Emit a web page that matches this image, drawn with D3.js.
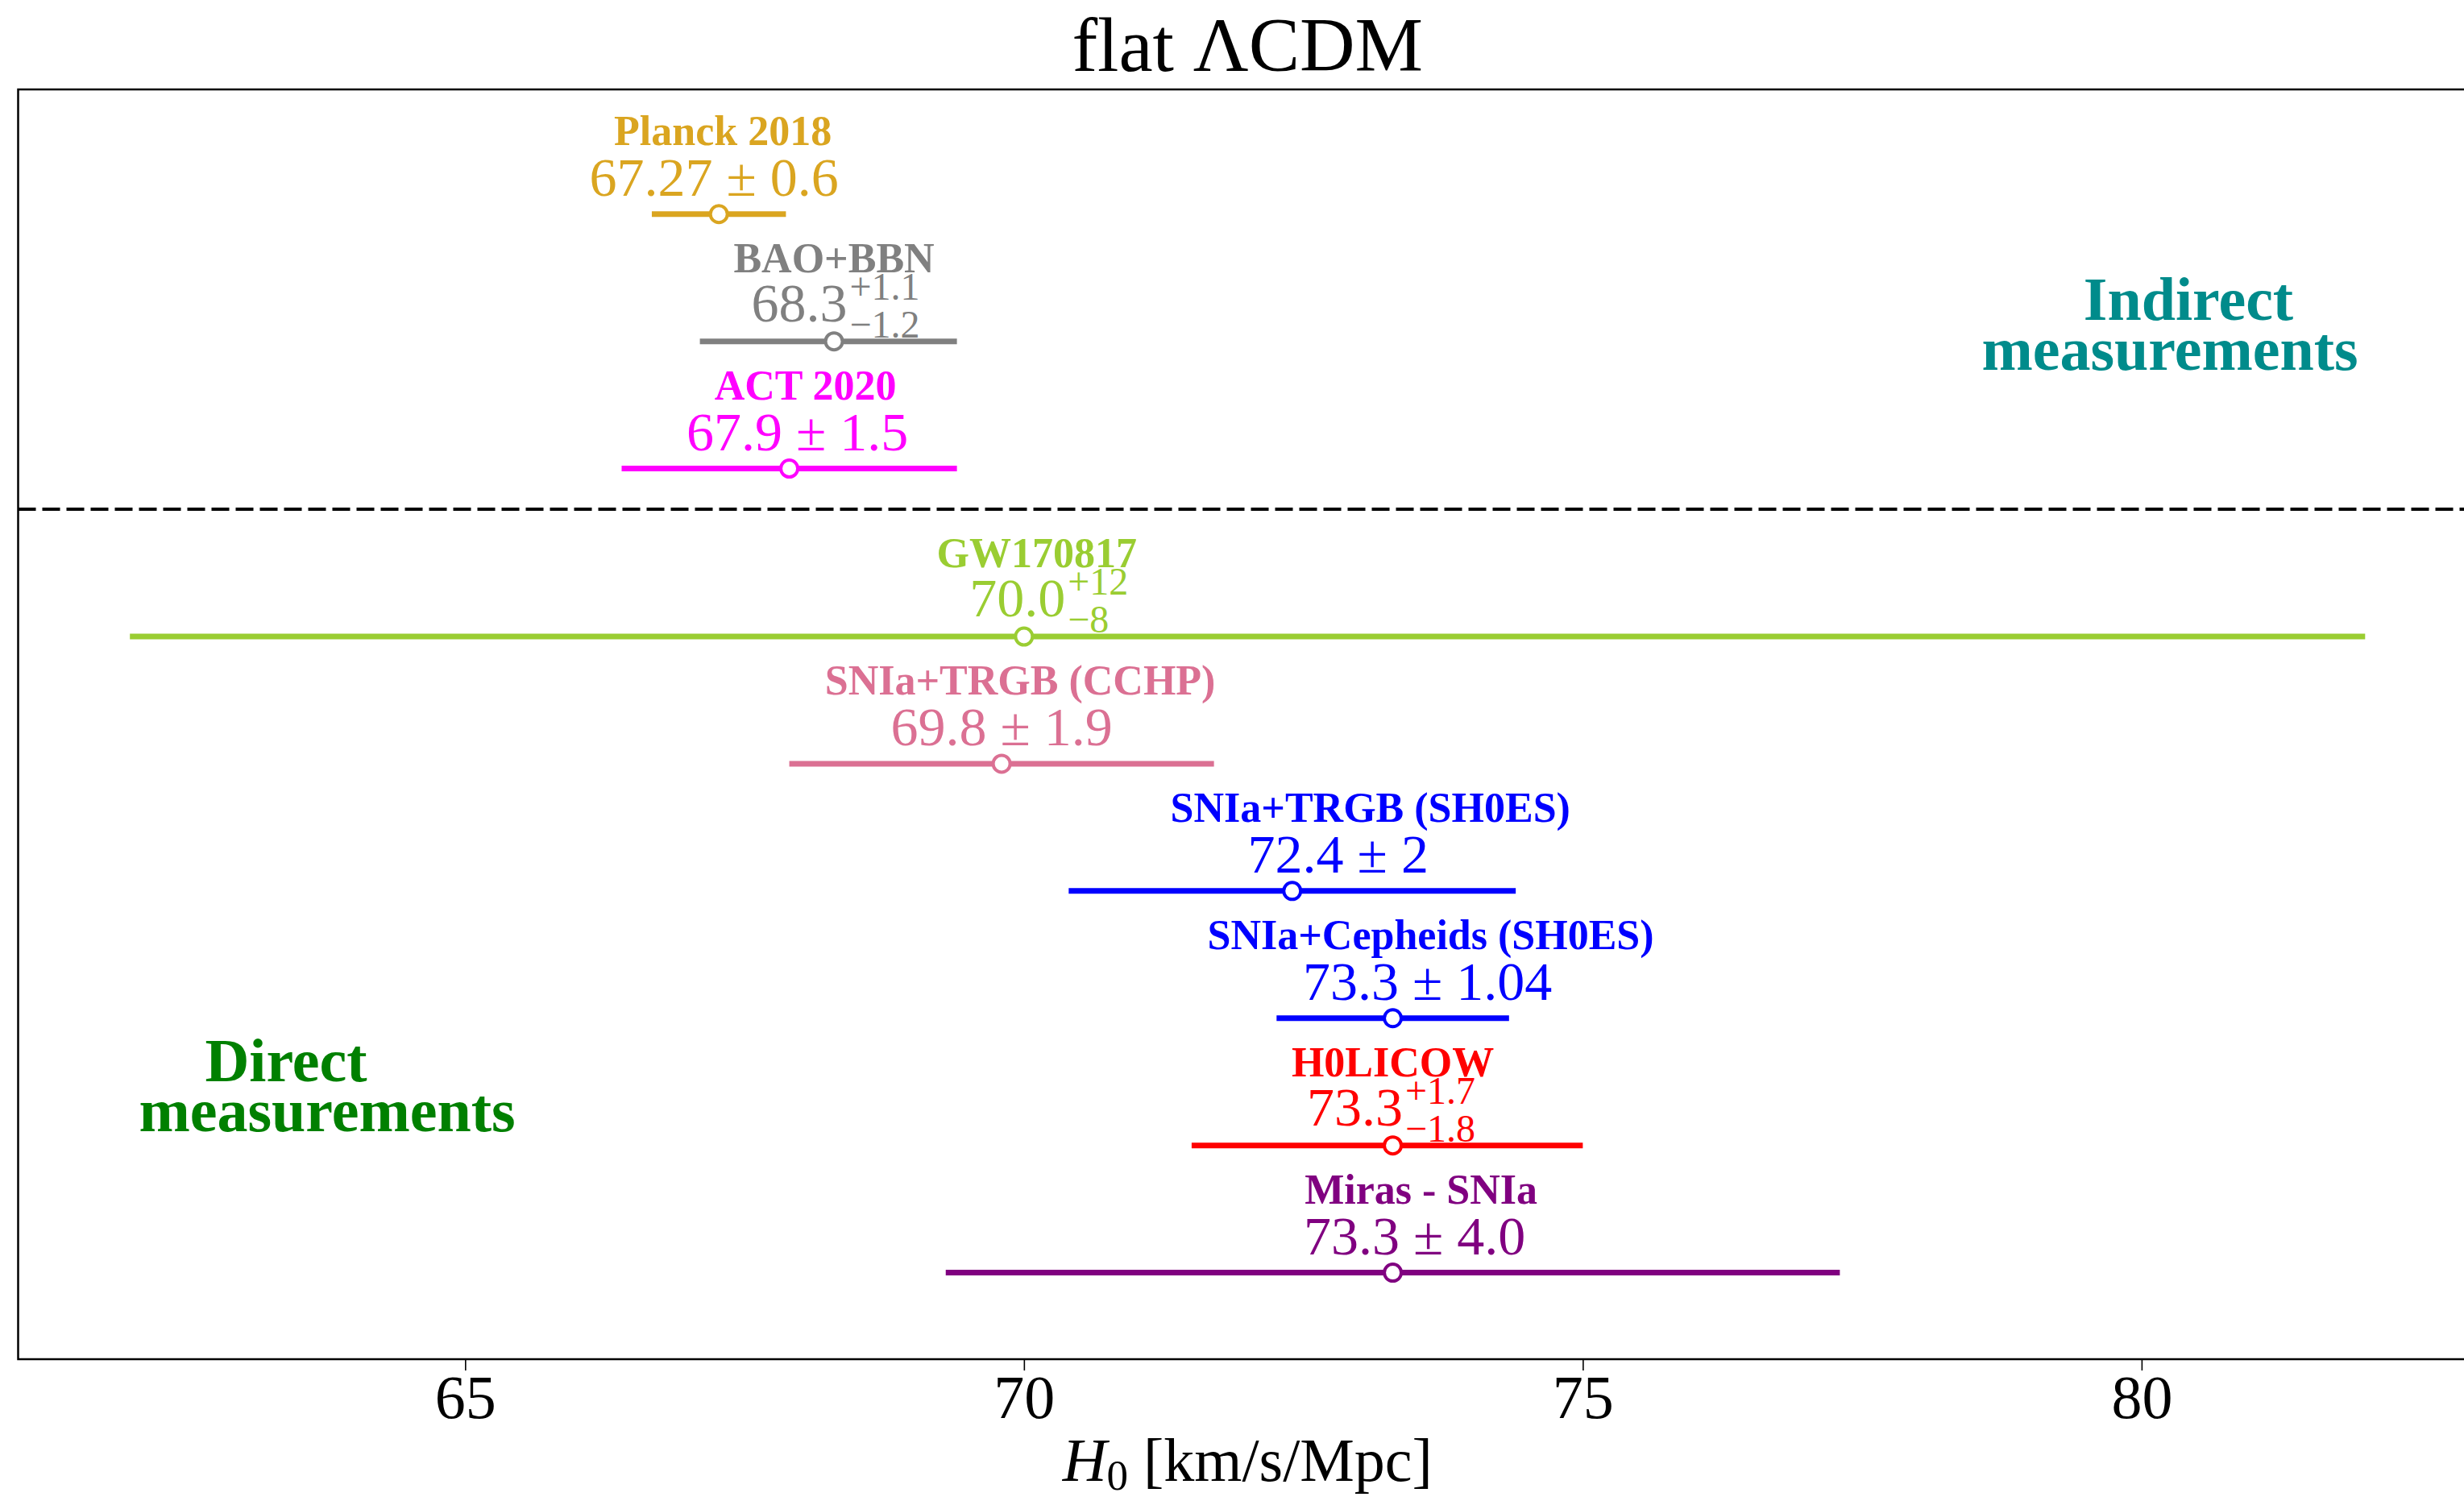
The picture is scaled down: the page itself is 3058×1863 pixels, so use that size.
<!DOCTYPE html>
<html>
<head>
<meta charset="utf-8">
<script src="https://cdn.jsdelivr.net/npm/d3@7"></script>
<style>
  html, body { margin: 0; padding: 0; background: #ffffff; }
  svg { display: block; }
  text { font-family: "Liberation Serif", "DejaVu Serif", serif; }
</style>
</head>
<body>
<script>
// H0 measurements, top to bottom
const names = ["Planck 2018", "BAO+BBN", "ACT 2020", "GW170817", "SNIa+TRGB (CCHP)",
               "SNIa+TRGB (SH0ES)", "SNIa+Cepheids (SH0ES)", "H0LICOW", "Miras - SNIa"];
const groups = ["indirect", "indirect", "indirect", "direct", "direct",
                "direct", "direct", "direct", "direct"];
const centralText = ["67.27", "68.3", "67.9", "70.0", "69.8", "72.4", "73.3", "73.3", "73.3"];
const plusText    = ["0.6", "1.1", "1.5", "12", "1.9", "2", "1.04", "1.7", "4.0"];
const minusText   = ["0.6", "1.2", "1.5", "8", "1.9", "2", "1.04", "1.8", "4.0"];
const colors = ["#DAA520", "#808080", "#FF00FF", "#9ACD32", "#DB7093",
                "#0000FF", "#0000FF", "#FF0000", "#800080"];
const xTicks = [65, 70, 75, 80];

// horizontal nudges (px) of the name and value labels relative to each marker
const nameNudge  = [5, 0, 20, 16, 23, 97, 47, 0, 35];
const valueNudge = [-6, 2, 10, 31, 0, 57, 43, -2, 27];

const data = names.map((n, i) => ({
  name: n,
  group: groups[i],
  h0: +centralText[i],
  ep: +plusText[i],
  em: +minusText[i],
  cTxt: centralText[i],
  pTxt: plusText[i],
  mTxt: minusText[i],
  color: colors[i],
  nn: nameNudge[i],
  vn: valueNudge[i]
}));

// Row positions: direct results stacked from the bottom, indirect above the divider
const nDirect = data.filter(d => d.group === "direct").length;
const dividerPos = nDirect;
const indirectOffset = 0.32;
data.forEach((d, i) => {
  if (d.group === "direct") {
    d.row = data.length - 1 - i;
  } else {
    d.row = dividerPos + indirectOffset + (2 - i);
  }
});

const W = 3058, H = 1863;
const plotL = 22.5, plotR = 3074, plotT = 111, plotB = 1687;

const svg = d3.select("body").append("svg")
  .attr("width", W).attr("height", H);

const x = d3.scaleLinear().domain([61, 83]).range([plotL, plotR]);
const y = d3.scaleLinear().domain([-0.68, 9.3]).range([plotB, plotT]);

// divider between indirect and direct measurements
svg.append("line")
  .attr("x1", plotL).attr("x2", plotR)
  .attr("y1", y(dividerPos)).attr("y2", y(dividerPos))
  .attr("stroke", "#000").attr("stroke-width", 4)
  .attr("stroke-dasharray", "22,8");

// error bars
const rows = svg.append("g").selectAll("g").data(data).join("g")
  .attr("transform", d => `translate(0,${y(d.row)})`);

rows.append("line")
  .attr("x1", d => x(d.h0 - d.em))
  .attr("x2", d => x(d.h0 + d.ep))
  .attr("stroke", d => d.color)
  .attr("stroke-width", 7);

rows.append("circle")
  .attr("cx", d => x(d.h0))
  .attr("r", 10.5)
  .attr("fill", "#fff")
  .attr("stroke", d => d.color)
  .attr("stroke-width", 4);

// measurement names
rows.append("text")
  .attr("x", d => x(d.h0) + d.nn)
  .attr("y", -86)
  .attr("text-anchor", "middle")
  .attr("font-weight", "bold")
  .attr("font-size", 52)
  .attr("fill", d => d.color)
  .text(d => d.name);

// value labels
const valSize = 68, scriptSize = 48;
rows.each(function(d) {
  const g = d3.select(this);
  const cx = x(d.h0) + d.vn;
  if (d.pTxt === d.mTxt) {
    g.append("text")
      .attr("x", cx).attr("y", -23)
      .attr("text-anchor", "middle")
      .attr("font-size", valSize)
      .attr("fill", d.color)
      .text(`${d.cTxt} \u00B1 ${d.pTxt}`);
  } else {
    const t = g.append("text")
      .attr("y", -25)
      .attr("font-size", valSize)
      .attr("fill", d.color);
    t.append("tspan").text(d.cTxt);
    const main = t.node().getComputedTextLength();
    const sup = g.append("text").attr("y", -52).attr("font-size", scriptSize)
      .attr("fill", d.color).text("+" + d.pTxt);
    const sub = g.append("text").attr("y", -5).attr("font-size", scriptSize)
      .attr("fill", d.color).text("\u2212" + d.mTxt);
    const sw = Math.max(sup.node().getComputedTextLength(), sub.node().getComputedTextLength());
    const total = main + 3 + sw;
    const x0 = cx - total / 2;
    t.attr("x", x0);
    sup.attr("x", x0 + main + 3);
    sub.attr("x", x0 + main + 3);
  }
});

// frame
svg.append("rect")
  .attr("x", plotL).attr("y", plotT)
  .attr("width", plotR - plotL).attr("height", plotB - plotT)
  .attr("fill", "none").attr("stroke", "#000").attr("stroke-width", 2.5);

// x axis
const xAxis = svg.append("g")
  .attr("transform", `translate(0,${plotB})`)
  .call(d3.axisBottom(x).tickValues(xTicks).tickSize(14).tickPadding(5).tickFormat(d3.format("d")));
xAxis.select(".domain").remove();
xAxis.selectAll(".tick line").attr("stroke", "#000").attr("stroke-width", 1.6);
xAxis.selectAll(".tick text")
  .attr("font-size", 76)
  .attr("font-family", "Liberation Serif, serif")
  .attr("fill", "#000");

// axis label
const xl = svg.append("text")
  .attr("x", (plotL + plotR) / 2).attr("y", 1838)
  .attr("text-anchor", "middle")
  .attr("font-size", 76)
  .attr("fill", "#000");
xl.append("tspan").attr("font-style", "italic").text("H");
xl.append("tspan").attr("font-size", 53).attr("dy", 11).text("0");
xl.append("tspan").attr("dy", -11).text(" [km/s/Mpc]");

// title
svg.append("text")
  .attr("x", (plotL + plotR) / 2).attr("y", 88)
  .attr("text-anchor", "middle")
  .attr("font-size", 95)
  .attr("fill", "#000")
  .text("flat \u039BCDM");

// group captions
const captions = [
  { lines: ["Indirect", "measurements"], cx: [2716, 2693], base: 397, color: "#008B8B" },
  { lines: ["Direct", "measurements"], cx: [355, 406], base: 1342, color: "#008000" }
];
captions.forEach(c => {
  c.lines.forEach((ln, i) => {
    svg.append("text")
      .attr("x", c.cx[i]).attr("y", c.base + i * 62)
      .attr("text-anchor", "middle")
      .attr("font-weight", "bold")
      .attr("font-size", 76)
      .attr("fill", c.color)
      .text(ln);
  });
});
</script>
</body>
</html>
